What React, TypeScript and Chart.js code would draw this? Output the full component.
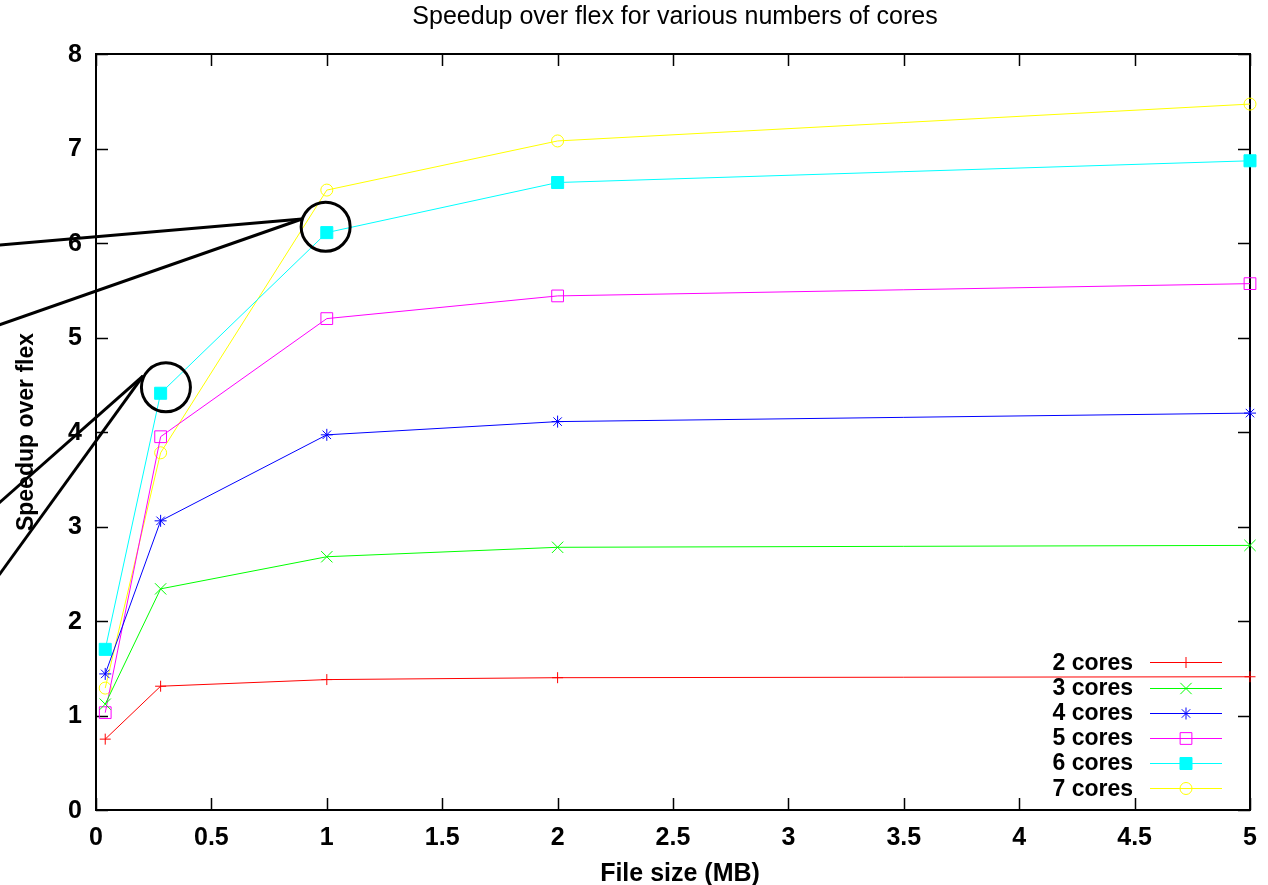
import { useEffect, useRef } from 'react';
import { Chart, registerables } from 'chart.js';
import { drawPoint } from 'chart.js/helpers';

Chart.register(...registerables);

// ---- data ----
const fileSizes = [0.04, 0.28, 1, 2, 5];
const cores2 = [0.75, 1.31, 1.38, 1.4, 1.41];
const cores3 = [1.12, 2.34, 2.68, 2.78, 2.8];
const cores4 = [1.44, 3.06, 3.97, 4.11, 4.2];
const cores5 = [1.03, 3.95, 5.2, 5.44, 5.57];
const cores6 = [1.7, 4.41, 6.11, 6.64, 6.87];
const cores7 = [1.29, 3.78, 6.56, 7.08, 7.47];
const seriesLabels = ['2 cores', '3 cores', '4 cores', '5 cores', '6 cores', '7 cores'];
const xTicks = [0, 0.5, 1, 1.5, 2, 2.5, 3, 3.5, 4, 4.5, 5];
const yTicks = [0, 1, 2, 3, 4, 5, 6, 7, 8];
const xTickLabels = ['0', '0.5', '1', '1.5', '2', '2.5', '3', '3.5', '4', '4.5', '5'];
const yTickLabels = ['0', '1', '2', '3', '4', '5', '6', '7', '8'];
const titleText = 'Speedup over flex for various numbers of cores';
const xTitle = 'File size (MB)';
const yTitle = 'Speedup over flex';

// annotation (in data units)
const circleX = [0.995, 0.303];
const circleY = [6.172, 4.473];
const pointerFromX = [-0.42, -0.42, -0.42, -0.42];
const pointerFromY = [5.979, 5.132, 3.249, 2.487];
const pointerToX = [0.8925, 0.8925, 0.204, 0.204];
const pointerToY = [6.254, 6.254, 4.593, 4.593];

const allSeries = [cores2, cores3, cores4, cores5, cores6, cores7];
const colors = ['#ff0000', '#00ff00', '#0000ff', '#ff00ff', '#00ffff', '#ffff00'];
const styles: any[] = [
  { pointStyle: 'cross', radius: 5.5, fill: false },
  { pointStyle: 'crossRot', radius: 8, fill: false },
  { pointStyle: 'star', radius: 6, fill: false },
  { pointStyle: 'rect', radius: 8.3, fill: false },
  { pointStyle: 'rect', radius: 8.5, fill: true },
  { pointStyle: 'circle', radius: 6, fill: false },
];

const FONT = '"Liberation Sans", Arial, Helvetica, sans-serif';

const decorPlugin = {
  id: 'decor',
  beforeDatasetsDraw(chart: any) {
    const { ctx, chartArea } = chart;
    const xs = chart.scales.x;
    const ys = chart.scales.y;
    const { left, right, top, bottom } = chartArea;
    ctx.save();
    ctx.strokeStyle = '#000';
    ctx.lineWidth = 2;
    ctx.strokeRect(left, top, right - left, bottom - top);
    ctx.lineWidth = 1.5;
    const tl = 12;
    ctx.beginPath();
    xTicks.forEach((v) => {
      const px = Math.round(xs.getPixelForValue(v)) + 0.5;
      ctx.moveTo(px, bottom);
      ctx.lineTo(px, bottom - tl);
      ctx.moveTo(px, top);
      ctx.lineTo(px, top + tl);
    });
    yTicks.forEach((v) => {
      const py = Math.round(ys.getPixelForValue(v)) + 0.5;
      ctx.moveTo(left, py);
      ctx.lineTo(left + tl, py);
      ctx.moveTo(right, py);
      ctx.lineTo(right - tl, py);
    });
    ctx.stroke();

    ctx.fillStyle = '#000';
    ctx.font = 'bold 25px ' + FONT;
    ctx.textAlign = 'right';
    ctx.textBaseline = 'middle';
    yTicks.forEach((v, i) => {
      ctx.fillText(yTickLabels[i], left - 14, ys.getPixelForValue(v) + 1);
    });
    ctx.textAlign = 'center';
    xTicks.forEach((v, i) => {
      ctx.fillText(xTickLabels[i], xs.getPixelForValue(v), bottom + 28);
    });

    // axis titles
    ctx.fillText(xTitle, (left + right) / 2 + 7, bottom + 64);
    ctx.font = 'bold 23px ' + FONT;
    ctx.save();
    ctx.translate(27, (top + bottom) / 2);
    ctx.rotate(-Math.PI / 2);
    ctx.fillText(yTitle, 0, 0);
    ctx.restore();

    // title
    ctx.font = '25px ' + FONT;
    ctx.fillText(titleText, 675, 17);
    ctx.restore();
  },
  afterDatasetsDraw(chart: any) {
    const { ctx } = chart;
    const xs = chart.scales.x;
    const ys = chart.scales.y;
    ctx.save();
    // legend
    const rowTop = 662.3;
    const rowStep = 25.2;
    ctx.font = 'bold 23px ' + FONT;
    ctx.textAlign = 'right';
    ctx.textBaseline = 'middle';
    seriesLabels.forEach((lab, i) => {
      const y = rowTop + i * rowStep;
      ctx.fillStyle = '#000';
      ctx.fillText(lab, 1133, y + 1);
      ctx.strokeStyle = colors[i];
      ctx.lineWidth = 1;
      ctx.beginPath();
      ctx.moveTo(1150, Math.round(y) + 0.5);
      ctx.lineTo(1222, Math.round(y) + 0.5);
      ctx.stroke();
      ctx.fillStyle = styles[i].fill ? colors[i] : 'rgba(0,0,0,0)';
      drawPoint(ctx, { pointStyle: styles[i].pointStyle, radius: styles[i].radius, rotation: 0, borderWidth: 1 } as any, 1186, Math.round(y) + 0.5);
    });

    // annotations
    ctx.strokeStyle = '#000';
    ctx.lineWidth = 3;
    circleX.forEach((cx, i) => {
      ctx.beginPath();
      ctx.arc(xs.getPixelForValue(cx), ys.getPixelForValue(circleY[i]), 24.5, 0, Math.PI * 2);
      ctx.stroke();
    });
    pointerFromX.forEach((fx, i) => {
      ctx.beginPath();
      ctx.moveTo(xs.getPixelForValue(fx), ys.getPixelForValue(pointerFromY[i]));
      ctx.lineTo(xs.getPixelForValue(pointerToX[i]), ys.getPixelForValue(pointerToY[i]));
      ctx.stroke();
    });
    ctx.restore();
  },
};

export default function App() {
  const canvasRef = useRef<HTMLCanvasElement | null>(null);
  useEffect(() => {
    document.body.style.margin = '0';
    const canvas = canvasRef.current;
    if (!canvas) return;
    const datasets = allSeries.map((vals, i) => ({
      label: seriesLabels[i],
      data: fileSizes.map((x, j) => ({ x, y: vals[j] })),
      borderColor: colors[i],
      backgroundColor: styles[i].fill ? colors[i] : 'rgba(0,0,0,0)',
      pointBorderColor: colors[i],
      pointBackgroundColor: styles[i].fill ? colors[i] : 'rgba(0,0,0,0)',
      borderWidth: 1,
      pointBorderWidth: 1,
      pointStyle: styles[i].pointStyle,
      pointRadius: styles[i].radius,
      tension: 0,
      fill: false,
      clip: false as any,
    }));
    const chart = new Chart(canvas, {
      type: 'line',
      data: { datasets },
      options: {
        responsive: false,
        animation: false,
        devicePixelRatio: 1,
        layout: { padding: { left: 96, top: 54, right: 18, bottom: 75 } },
        scales: {
          x: { type: 'linear', min: 0, max: 5, display: false },
          y: { type: 'linear', min: 0, max: 8, display: false },
        },
        plugins: {
          legend: { display: false },
          title: { display: false },
          tooltip: { enabled: false },
        },
      },
      plugins: [decorPlugin],
    });
    return () => chart.destroy();
  }, []);
  return (
    <div style={{ width: 1268, height: 885, background: '#fff' }}>
      <canvas ref={canvasRef} width={1268} height={885} />
    </div>
  );
}
